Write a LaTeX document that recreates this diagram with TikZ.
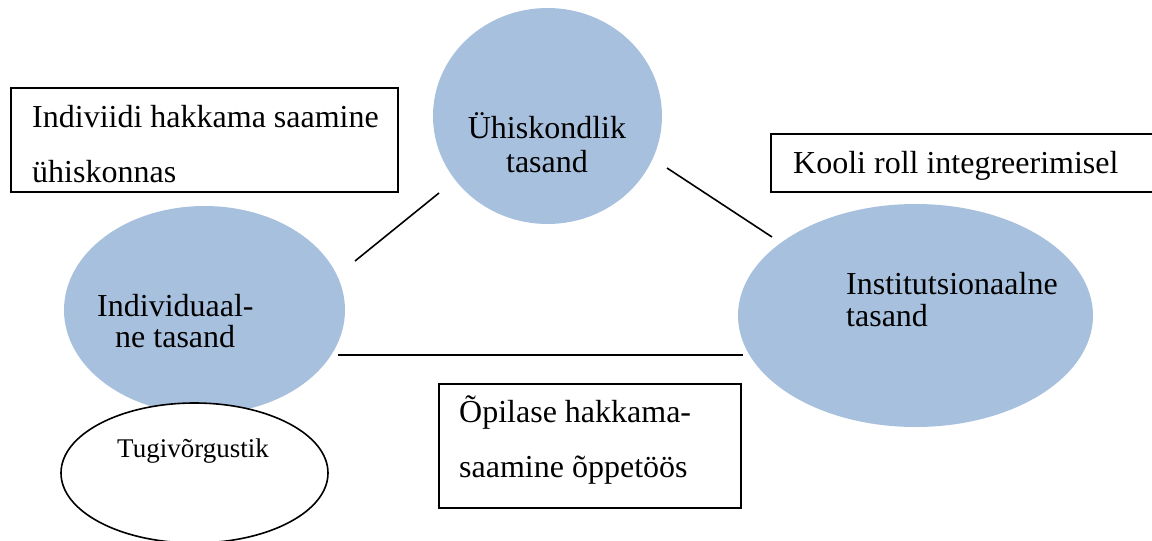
\documentclass[tikz,border=0pt]{standalone}
\usepackage{fontspec}
\setmainfont{Liberation Serif}
\usetikzlibrary{shapes.geometric}
\definecolor{blobblue}{RGB}{167,192,222}
\begin{document}
\begin{tikzpicture}[x=1pt,y=-1pt,
  blob/.style={ellipse, fill=blobblue, draw=none, inner sep=0pt},
  whiteblob/.style={ellipse, draw=black, line width=1.6pt, fill=white, inner sep=0pt},
  box/.style={rectangle, draw=black, line width=2.2pt, fill=white, inner sep=0pt},
  txt/.style={anchor=base west, inner sep=0pt, font=\fontsize{32}{38}\selectfont},
  ctxt/.style={anchor=base, inner sep=0pt, font=\fontsize{32}{38}\selectfont},
  smalltxt/.style={anchor=base west, inner sep=0pt, font=\fontsize{27}{32}\selectfont},
  link/.style={line width=1.6pt}]
\useasboundingbox (0,0) rectangle (1152,541);
% shapes
\node[blob, minimum width=229pt, minimum height=216pt] (soc) at (547.5,116) {};
\node[blob, minimum width=281pt, minimum height=208pt] (ind) at (204.5,310) {};
\node[blob, minimum width=355pt, minimum height=223pt] (inst) at (915.5,315.5) {};
\node[whiteblob, minimum width=267pt, minimum height=140pt] (tugi) at (194.5,473) {};
\node[box, minimum width=387pt, minimum height=104pt] (boxind) at (204.5,140) {};
\node[box, minimum width=398pt, minimum height=58pt] (boxkool) at (970,163) {};
\node[box, minimum width=302pt, minimum height=124pt] (boxopil) at (590,446) {};
% connectors
\coordinate (l1a) at (355,261);
\coordinate (l1b) at (439,193);
\coordinate (l2a) at (667,168);
\coordinate (l2b) at (772,237);
\coordinate (l3a) at (338,355);
\coordinate (l3b) at (743,355);
\draw[link] (l1a) -- (l1b);
\draw[link] (l2a) -- (l2b);
\draw[link] (l3a) -- (l3b);
% texts
\node[ctxt] (t1) at (547,138) {Ühiskondlik};
\node[ctxt] (t2) at (547,172) {tasand};
\node[txt] (t3) at (97,316) {Individuaal-};
\node[txt] (t4) at (115,347) {ne tasand};
\node[txt] (t5) at (846,294) {Institutsionaalne};
\node[txt] (t6) at (846,326) {tasand};
\node[smalltxt] (t7) at (117,457) {Tugivõrgustik};
\node[txt] (t8) at (32,127) {Indiviidi hakkama saamine};
\node[txt] (t9) at (32,182) {ühiskonnas};
\node[txt] (t10) at (793,173) {Kooli roll integreerimisel};
\node[txt] (t11) at (459,422) {Õpilase hakkama-};
\node[txt] (t12) at (459,477) {saamine õppetöös};
\end{tikzpicture}
\end{document}
